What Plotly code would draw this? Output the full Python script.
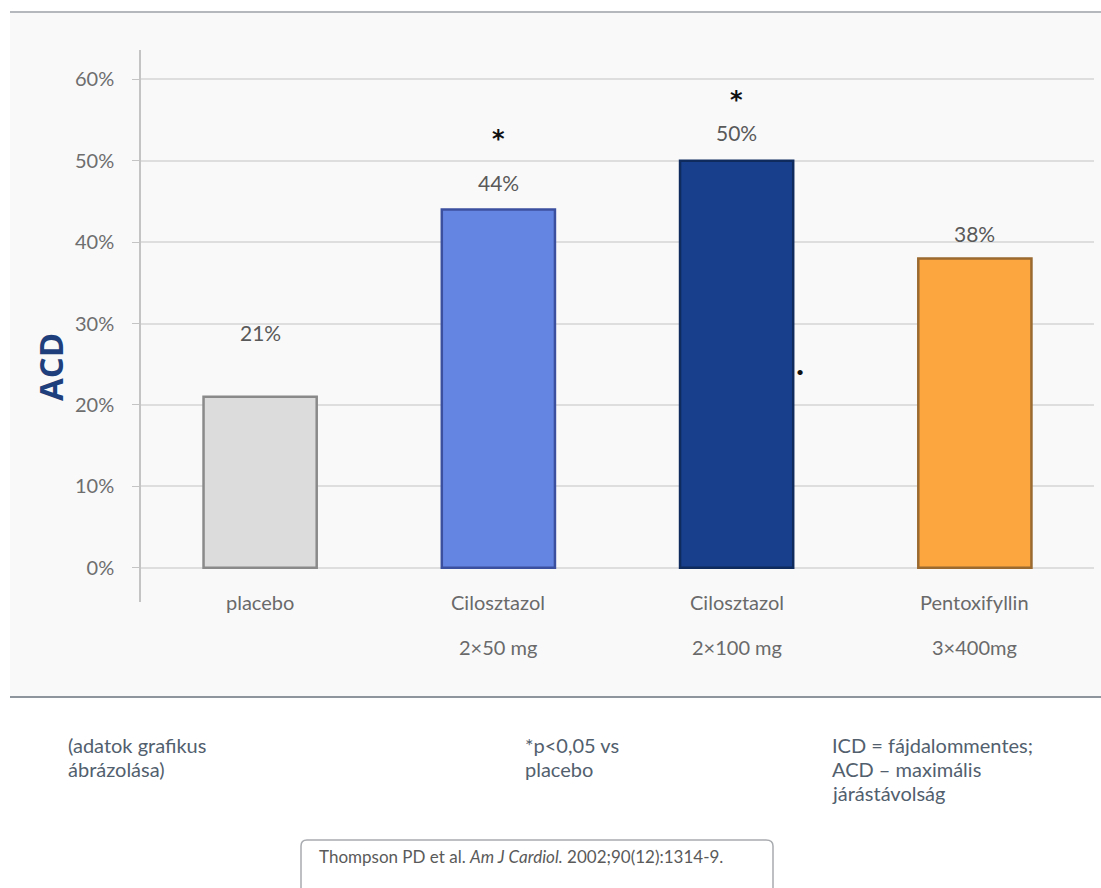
import plotly.graph_objects as go

# ---- data ----
categories = ["placebo", "Cilosztazol 2×50 mg", "Cilosztazol 2×100 mg", "Pentoxifyllin 3×400mg"]
label_line1 = ["placebo", "Cilosztazol", "Cilosztazol", "Pentoxifyllin"]
label_line2 = ["", "2×50 mg", "2×100 mg", "3×400mg"]
acd_values = [21, 44, 50, 38]
value_labels = ["21%", "44%", "50%", "38%"]
significant = [False, True, True, False]
y_ticks = [0, 10, 20, 30, 40, 50, 60]
y_tick_labels = ["0%", "10%", "20%", "30%", "40%", "50%", "60%"]
note_left = ["(adatok grafikus", "ábrázolása)"]
note_mid = ["*p&lt;0,05 vs", "placebo"]
note_right = ["ICD = fájdalommentes;", "ACD – maximális", "járástávolság"]
citation = "Thompson PD et al. <i>Am J Cardiol.</i> 2002;90(12):1314-9."

# ---- style ----
fill_colors = ["#dcdcdc", "#6585e2", "#173f8c", "#fba63f"]
edge_colors = ["#8a8a8a", "#3c50a0", "#0f2a5c", "#9a6a30"]
FONT = "Lato"
W, H = 1101, 888
L, R, T, B = 141, 7, 50, 286
PW, PH = W - L - R, H - T - B


def px(x):
    return (x - L) / PW


def py(y):
    return (H - B - y) / PH


fig = go.Figure()
fig.add_trace(go.Bar(
    x=categories, y=acd_values, width=0.475,
    marker=dict(color=fill_colors, line=dict(color=edge_colors, width=2.5)),
    hoverinfo="skip", showlegend=False,
))

ann = []
# value labels
label_shift = [64, 27, 28, 25]
for c, v, t, s in zip(categories, acd_values, value_labels, label_shift):
    ann.append(dict(x=c, y=v, xref="x", yref="y", text=t, showarrow=False,
                    yshift=s, font=dict(family=FONT, size=21, color="#595959")))
# significance stars
star_shift = [0, 71, 61, 0]
for c, v, sig, s in zip(categories, acd_values, significant, star_shift):
    if sig:
        ann.append(dict(x=c, y=v, xref="x", yref="y", text="<b>*</b>", showarrow=False,
                        yshift=s, font=dict(family="DejaVu Sans", size=24, color="#111111")))
# category labels
for c, l1, l2 in zip(categories, label_line1, label_line2):
    ann.append(dict(x=c, y=py(602), xref="x", yref="paper", text=l1, showarrow=False,
                    yanchor="middle", font=dict(family=FONT, size=20, color="#6a6a6a")))
    if l2:
        ann.append(dict(x=c, y=py(647), xref="x", yref="paper", text=l2, showarrow=False,
                        yanchor="middle", font=dict(family=FONT, size=20, color="#6a6a6a")))
# axis title
ann.append(dict(x=px(50), y=py(367), xref="paper", yref="paper", text="<b>ACD</b>",
                textangle=-90, showarrow=False, xanchor="center", yanchor="middle",
                font=dict(family="Open Sans", size=33, color="#1f3f7c")))
# stray dot
ann.append(dict(x=px(806), y=py(372), xref="paper", yref="paper", text="•", showarrow=False,
                font=dict(family=FONT, size=14, color="#111111")))
# footer notes
foot_color = "#52606e"
for xs, lines in ((66, note_left), (523, note_mid), (830, note_right)):
    for i, line in enumerate(lines):
        ann.append(dict(x=px(xs), y=py(745 + 24 * i), xref="paper", yref="paper",
                        xanchor="left", yanchor="middle", showarrow=False, text=line,
                        font=dict(family=FONT, size=20, color=foot_color)))
ann.append(dict(x=px(317), y=py(856), xref="paper", yref="paper", xanchor="left", yanchor="middle",
                align="left", showarrow=False, text=citation,
                font=dict(family=FONT, size=17, color="#5a5a5a")))

shapes = [
    # panel background
    dict(type="rect", xref="paper", yref="paper", x0=px(10), x1=px(1101), y0=py(697), y1=py(12),
         fillcolor="#f9f9fa", line=dict(width=0), layer="below"),
    dict(type="line", xref="paper", yref="paper", x0=px(10), x1=px(1101), y0=py(12), y1=py(12),
         line=dict(color="#b5b8bc", width=2)),
    dict(type="line", xref="paper", yref="paper", x0=px(10), x1=px(1101), y0=py(697), y1=py(697),
         line=dict(color="#8e959c", width=2)),
    # citation box
    dict(type="path", xref="paper", yref="paper",
         path=(f"M {px(301)} {py(900)} L {px(301)} {py(846)} Q {px(301)} {py(840)} {px(307)} {py(840)} "
               f"L {px(766)} {py(840)} Q {px(773)} {py(840)} {px(773)} {py(846)} L {px(773)} {py(900)}"),
         fillcolor="#ffffff", line=dict(color="#a8abaf", width=1.5)),
]

fig.update_layout(
    width=W, height=H,
    margin=dict(l=L, r=R, t=T, b=B),
    paper_bgcolor="#ffffff", plot_bgcolor="#f9f9fa",
    font=dict(family=FONT),
    bargap=0.5,
    xaxis=dict(showticklabels=False, showgrid=False, zeroline=False, showline=False,
               range=[-0.5, 3.5], ticks=""),
    yaxis=dict(range=[-4.2, 63.6], tickvals=y_ticks, ticktext=y_tick_labels,
               showgrid=True, gridcolor="#dedede", gridwidth=1.5, zeroline=False,
               showline=True, linecolor="#c4c4c4", linewidth=1.5,
               ticks="outside", ticklen=7, tickcolor="#c4c4c4", ticklabelstandoff=14,
               tickfont=dict(family=FONT, size=20, color="#6e6e6e")),
    annotations=ann, shapes=shapes,
)

fig.write_html("out.html")
